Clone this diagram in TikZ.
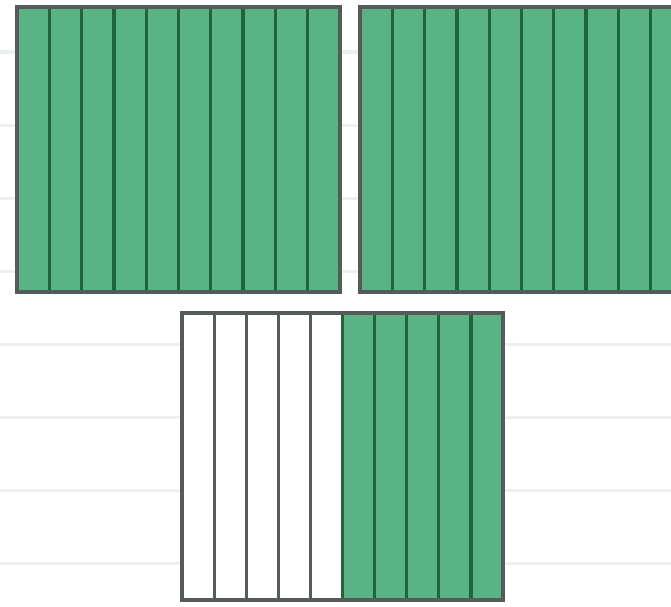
\documentclass[tikz,border=0pt]{standalone}
\usepackage{xcolor}
\definecolor{strip}{HTML}{5AB384}
\definecolor{stripline}{HTML}{1C6638}
\definecolor{frame}{HTML}{555B58}
\definecolor{ruled}{HTML}{ECF0EF}

\begin{document}
\begin{tikzpicture}[x=0.025cm,y=-0.025cm,
    ruling/.style={ruled,line width=2.2pt},
    fullstrip/.style={fill=strip,draw=stripline,line width=2.3pt},
    emptystrip/.style={fill=white,draw=frame,line width=2pt},
    outline/.style={draw=frame,line width=2.3pt}]
  \useasboundingbox (0,0) rectangle (671,606);
  \clip (0,0) rectangle (671,606);
  \fill[white] (0,0) rectangle (671,606);
  % Ruled paper
  \foreach \k in {0,...,7}
    \draw[ruling] (0,52+73.1*\k) -- (671,52+73.1*\k);

  % Left whole: ten tenths shaded
  \foreach \i in {0,...,9}
    \draw[fullstrip] (17+32.3*\i,7) rectangle (17+32.3*\i+32.3,292);
  \draw[outline] (17,7) rectangle (340,292);

  % Right whole (runs past the edge)
  \foreach \i in {0,...,9}
    \draw[fullstrip] (360+32.3*\i,7) rectangle (360+32.3*\i+32.3,292);
  \draw[outline] (360,7) rectangle (683,292);

  % Bottom whole: five tenths shaded
  \foreach \i in {0,...,4}
    \draw[emptystrip] (182+32.1*\i,313) rectangle (182+32.1*\i+32.1,600);
  \foreach \i in {5,...,9}
    \draw[fullstrip] (182+32.1*\i,313) rectangle (182+32.1*\i+32.1,600);
  \draw[outline] (182,313) rectangle (503,600);
\end{tikzpicture}
\end{document}
